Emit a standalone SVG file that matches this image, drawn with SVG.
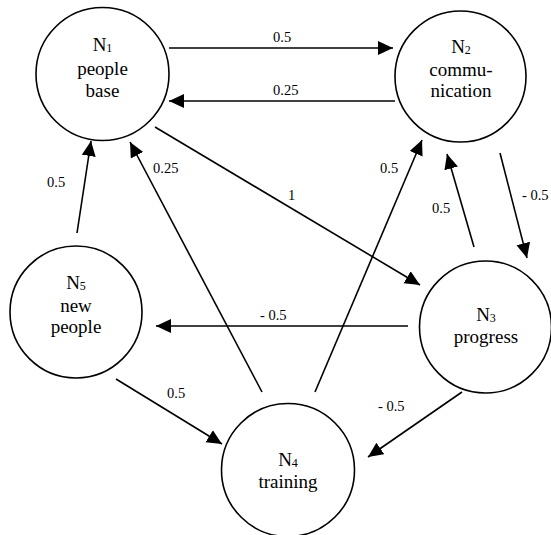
<svg xmlns="http://www.w3.org/2000/svg" width="551" height="535" viewBox="0 0 551 535">
<style>
.node{fill:#fff;stroke:#000;stroke-width:1.6}
.nt{font-family:'Liberation Serif','DejaVu Serif',serif;font-size:19px;text-anchor:middle;fill:#000}
.sub{font-size:12px}
.lbl{font-family:'Liberation Serif','DejaVu Serif',serif;font-size:14.5px;fill:#000}
.edge{stroke:#000;stroke-width:1.6;fill:none;marker-end:url(#arr)}
</style>
<defs>
<marker id="arr" markerUnits="userSpaceOnUse" markerWidth="16" markerHeight="16" viewBox="0 0 16 16" refX="15" refY="8" orient="auto">
<path d="M0,1 L15,8 L0,15 Z" fill="#000"/>
</marker>
</defs>
<rect width="551" height="535" fill="#fff"/>
<g id="connectors">
<line class="edge" x1="169" y1="48" x2="393" y2="48"/>
<line class="edge" x1="395" y1="101" x2="169" y2="101"/>
<line class="edge" x1="155" y1="127" x2="420" y2="285"/>
<line class="edge" x1="262" y1="392" x2="130" y2="142"/>
<line class="edge" x1="77" y1="233" x2="91" y2="141"/>
<line class="edge" x1="315" y1="392" x2="422" y2="140"/>
<line class="edge" x1="474" y1="247" x2="447" y2="154"/>
<line class="edge" x1="500" y1="153" x2="527" y2="258"/>
<line class="edge" x1="408" y1="326" x2="156" y2="326"/>
<line class="edge" x1="116" y1="379" x2="222" y2="444"/>
<line class="edge" x1="462" y1="392" x2="368" y2="457"/>
<g font-family="Liberation Serif, serif">
<text class="lbl" x="273" y="42">0.5</text>
<text class="lbl" x="273" y="95">0.25</text>
<text class="lbl" x="288" y="200">1</text>
<text class="lbl" x="153" y="173">0.25</text>
<text class="lbl" x="47" y="187">0.5</text>
<text class="lbl" x="380" y="173">0.5</text>
<text class="lbl" x="432" y="213">0.5</text>
<text class="lbl" x="522" y="200">- 0.5</text>
<text class="lbl" x="260" y="320">- 0.5</text>
<text class="lbl" x="378" y="411">- 0.5</text>
<text class="lbl" x="167" y="398">0.5</text>
</g>
</g>
<g id="N1">
<circle class="node" cx="102.5" cy="74" r="66.5"/>
<text class="nt" x="102.5" y="51">N<tspan class="sub" dy="1">1</tspan></text>
<text class="nt" x="102.5" y="75">people</text>
<text class="nt" x="102.5" y="97">base</text>
</g>
<g id="N2">
<circle class="node" cx="460.5" cy="76.5" r="65.5"/>
<text class="nt" x="461" y="53">N<tspan class="sub" dy="1">2</tspan></text>
<text class="nt" x="461" y="76">commu-</text>
<text class="nt" x="461" y="97">nication</text>
</g>
<g id="N3">
<circle class="node" cx="485.5" cy="327" r="66"/>
<text class="nt" x="486" y="321">N<tspan class="sub" dy="1">3</tspan></text>
<text class="nt" x="486" y="343">progress</text>
</g>
<g id="N4">
<circle class="node" cx="288" cy="470" r="66.5"/>
<text class="nt" x="288" y="466">N<tspan class="sub" dy="1">4</tspan></text>
<text class="nt" x="288" y="488">training</text>
</g>
<g id="N5">
<circle class="node" cx="76" cy="312" r="66"/>
<text class="nt" x="76" y="289">N<tspan class="sub" dy="1">5</tspan></text>
<text class="nt" x="76" y="312">new</text>
<text class="nt" x="76" y="333">people</text>
</g>
</svg>
